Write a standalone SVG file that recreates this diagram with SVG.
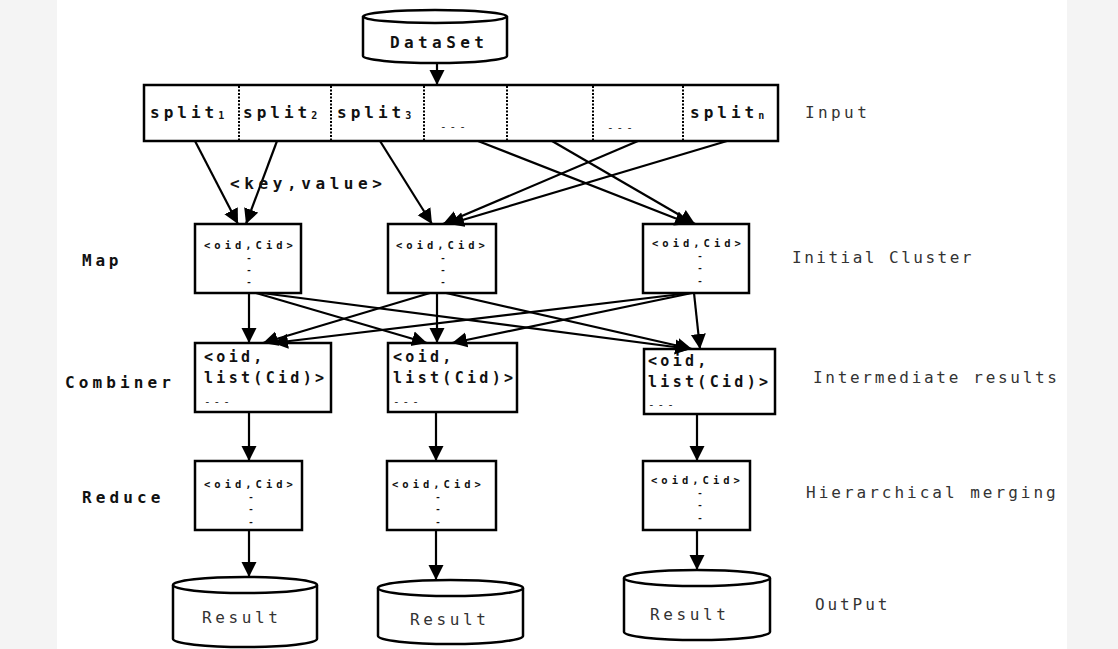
<svg xmlns="http://www.w3.org/2000/svg" width="1118" height="649" viewBox="0 0 1118 649">
  <defs>
    <marker id="arrow" markerUnits="userSpaceOnUse" markerWidth="16" markerHeight="16" viewBox="0 0 16 16" refX="15" refY="8" orient="auto">
      <path d="M0,0.5 L15,8 L0,15.5 z" fill="#000"/>
    </marker>
    <style>
      .box { fill: #fff; stroke: #000; stroke-width: 2.5; }
      .div { stroke: #000; stroke-width: 2; stroke-dasharray: 2 1.5; }
      .edge { fill: none; stroke: #000; stroke-width: 2.2; marker-end: url(#arrow); }
      .mono { font-family: "DejaVu Sans Mono", "Liberation Mono", monospace; }
      .bold { font-weight: bold; fill: #111; }
      .thin { font-weight: normal; fill: #333; font-size: 16px; }
      .pair { font-size: 10.5px; letter-spacing: 4px; }
      .dot { font-size: 9px; font-weight: bold; text-anchor: middle; fill: #111; }
      .comb { font-size: 15px; letter-spacing: 3.3px; }
    </style>
  </defs>

  <!-- page margins -->
  <rect x="0" y="0" width="1118" height="649" fill="#fff"/>
  <rect x="0" y="0" width="57" height="649" fill="#f4f4f4"/>
  <rect x="1067" y="0" width="51" height="649" fill="#f4f4f4"/>

  <!-- source data -->
  <g id="dataset">
    <path class="box" d="M363,16.5 L363,56 A72,7 0 0 0 507,56 L507,16.5"/>
    <ellipse class="box" cx="435" cy="16.5" rx="72" ry="6.5"/>
    <text class="mono bold" x="390" y="48" font-size="16" letter-spacing="4.4">DataSet</text>
  </g>

  <!-- input splits -->
  <g id="input">
    <rect class="box" x="144" y="85" width="634" height="56"/>
    <line class="div" x1="239" y1="86" x2="239" y2="140"/>
    <line class="div" x1="331" y1="86" x2="331" y2="140"/>
    <line class="div" x1="424" y1="86" x2="424" y2="140"/>
    <line class="div" x1="507" y1="86" x2="507" y2="140"/>
    <line class="div" x1="593" y1="86" x2="593" y2="140"/>
    <line class="div" x1="683" y1="86" x2="683" y2="140"/>
    <text class="mono bold" x="150" y="118" font-size="16" letter-spacing="4">split<tspan font-size="10" letter-spacing="0" dy="1">1</tspan></text>
    <text class="mono bold" x="243" y="118" font-size="16" letter-spacing="4">split<tspan font-size="10" letter-spacing="0" dy="1">2</tspan></text>
    <text class="mono bold" x="337" y="118" font-size="16" letter-spacing="4">split<tspan font-size="10" letter-spacing="0" dy="1">3</tspan></text>
    <text class="mono" x="440" y="130" font-size="11" letter-spacing="3" fill="#222">---</text>
    <text class="mono" x="607" y="131" font-size="11" letter-spacing="3" fill="#222">---</text>
    <text class="mono bold" x="690" y="118" font-size="16" letter-spacing="4">split<tspan font-size="10" letter-spacing="0" dy="1">n</tspan></text>
  </g>

  <!-- map stage -->
  <g id="map1">
    <rect class="box" x="195" y="224" width="106" height="69"/>
    <text class="mono bold pair" x="204" y="249">&lt;oid,Cid&gt;</text>
    <text class="mono dot" x="249" y="261">-</text>
    <text class="mono dot" x="249" y="273">-</text>
    <text class="mono dot" x="249" y="285">-</text>
  </g>
  <g id="map2">
    <rect class="box" x="388" y="224" width="108" height="69"/>
    <text class="mono bold pair" x="396" y="249">&lt;oid,Cid&gt;</text>
    <text class="mono dot" x="443" y="261">-</text>
    <text class="mono dot" x="443" y="273">-</text>
    <text class="mono dot" x="443" y="285">-</text>
  </g>
  <g id="map3">
    <rect class="box" x="643" y="224" width="106" height="69"/>
    <text class="mono bold pair" x="652" y="247">&lt;oid,Cid&gt;</text>
    <text class="mono dot" x="700" y="259">-</text>
    <text class="mono dot" x="700" y="271">-</text>
    <text class="mono dot" x="700" y="284">-</text>
  </g>

  <!-- combiner stage -->
  <g id="combiner1">
    <rect class="box" x="195" y="343" width="136" height="69"/>
    <text class="mono bold comb" x="204" y="362">&lt;oid,</text>
    <text class="mono bold comb" x="204" y="383">list(Cid)&gt;</text>
    <text class="mono" x="204" y="405" font-size="11" letter-spacing="3" fill="#222">---</text>
  </g>
  <g id="combiner2">
    <rect class="box" x="388" y="343" width="129" height="69"/>
    <text class="mono bold comb" x="393" y="362">&lt;oid,</text>
    <text class="mono bold comb" x="393" y="383">list(Cid)&gt;</text>
    <text class="mono" x="393" y="405" font-size="11" letter-spacing="3" fill="#222">---</text>
  </g>
  <g id="combiner3">
    <rect class="box" x="644" y="349" width="131" height="65"/>
    <text class="mono bold comb" x="648" y="366">&lt;oid,</text>
    <text class="mono bold comb" x="648" y="387">list(Cid)&gt;</text>
    <text class="mono" x="648" y="408" font-size="11" letter-spacing="3" fill="#222">---</text>
  </g>

  <!-- reduce stage -->
  <g id="reduce1">
    <rect class="box" x="195" y="461" width="107" height="69"/>
    <text class="mono bold pair" x="204" y="488">&lt;oid,Cid&gt;</text>
    <text class="mono dot" x="251" y="500">-</text>
    <text class="mono dot" x="251" y="512">-</text>
    <text class="mono dot" x="251" y="525">-</text>
  </g>
  <g id="reduce2">
    <rect class="box" x="387" y="461" width="109" height="69"/>
    <text class="mono bold pair" x="392" y="488">&lt;oid,Cid&gt;</text>
    <text class="mono dot" x="438" y="500">-</text>
    <text class="mono dot" x="438" y="512">-</text>
    <text class="mono dot" x="438" y="525">-</text>
  </g>
  <g id="reduce3">
    <rect class="box" x="643" y="461" width="107" height="69"/>
    <text class="mono bold pair" x="651" y="484">&lt;oid,Cid&gt;</text>
    <text class="mono dot" x="700" y="496">-</text>
    <text class="mono dot" x="700" y="508">-</text>
    <text class="mono dot" x="700" y="521">-</text>
  </g>

  <!-- outputs -->
  <g id="result1">
    <path class="box" d="M173,585 L173,639 A72,8 0 0 0 317,639 L317,585"/>
    <ellipse class="box" cx="245" cy="585" rx="72" ry="8"/>
    <text class="mono thin" x="202" y="623" font-size="17" letter-spacing="3.6">Result</text>
  </g>
  <g id="result2">
    <path class="box" d="M378,588 L378,636 A72.5,8 0 0 0 523,636 L523,588"/>
    <ellipse class="box" cx="450.5" cy="588" rx="72.5" ry="8"/>
    <text class="mono thin" x="410" y="625" font-size="17" letter-spacing="3.6">Result</text>
  </g>
  <g id="result3">
    <path class="box" d="M624,578 L624,632 A73,8 0 0 0 770,632 L770,578"/>
    <ellipse class="box" cx="697" cy="578" rx="73" ry="8"/>
    <text class="mono thin" x="650" y="620" font-size="17" letter-spacing="3.6">Result</text>
  </g>

  <!-- connectors -->
  <g id="connectors">
    <line class="edge" x1="437" y1="63" x2="437" y2="85"/>

    <line class="edge" x1="195" y1="141" x2="238" y2="224"/>
    <line class="edge" x1="277" y1="141" x2="246" y2="224"/>
    <line class="edge" x1="380" y1="141" x2="432" y2="224"/>
    <line class="edge" x1="638" y1="141" x2="443" y2="224"/>
    <line class="edge" x1="727" y1="141" x2="449" y2="224"/>
    <line class="edge" x1="478" y1="141" x2="690" y2="224"/>
    <line class="edge" x1="552" y1="141" x2="695" y2="224"/>

    <line class="edge" x1="249" y1="293" x2="249" y2="343"/>
    <line class="edge" x1="256" y1="293" x2="427" y2="343"/>
    <line class="edge" x1="262" y1="293" x2="690" y2="349"/>
    <line class="edge" x1="430" y1="293" x2="263" y2="343"/>
    <line class="edge" x1="437" y1="293" x2="437" y2="343"/>
    <line class="edge" x1="446" y1="293" x2="692" y2="349"/>
    <line class="edge" x1="690" y1="293" x2="273" y2="343"/>
    <line class="edge" x1="692" y1="293" x2="452" y2="343"/>
    <line class="edge" x1="694" y1="293" x2="700" y2="349"/>

    <line class="edge" x1="249" y1="412" x2="249" y2="461"/>
    <line class="edge" x1="436" y1="412" x2="436" y2="461"/>
    <line class="edge" x1="697" y1="414" x2="697" y2="461"/>

    <line class="edge" x1="249" y1="530" x2="249" y2="577"/>
    <line class="edge" x1="436" y1="530" x2="436" y2="580"/>
    <line class="edge" x1="697" y1="530" x2="697" y2="570"/>
  </g>

  <!-- edge label -->
  <text class="mono bold" x="230" y="189" font-size="16" letter-spacing="4.6">&lt;key,value&gt;</text>

  <!-- stage names -->
  <text class="mono bold" x="82" y="266" font-size="16" letter-spacing="3.8">Map</text>
  <text class="mono bold" x="65" y="388" font-size="16" letter-spacing="4.1">Combiner</text>
  <text class="mono bold" x="82" y="503" font-size="16" letter-spacing="4.1">Reduce</text>

  <!-- stage descriptions -->
  <text class="mono thin" x="805" y="118" letter-spacing="3.4">Input</text>
  <text class="mono thin" x="792" y="263" letter-spacing="2.5">Initial Cluster</text>
  <text class="mono thin" x="813" y="383" letter-spacing="2.7">Intermediate results</text>
  <text class="mono thin" x="806" y="498" letter-spacing="3">Hierarchical merging</text>
  <text class="mono thin" x="815" y="610" letter-spacing="2.9">OutPut</text>
</svg>
